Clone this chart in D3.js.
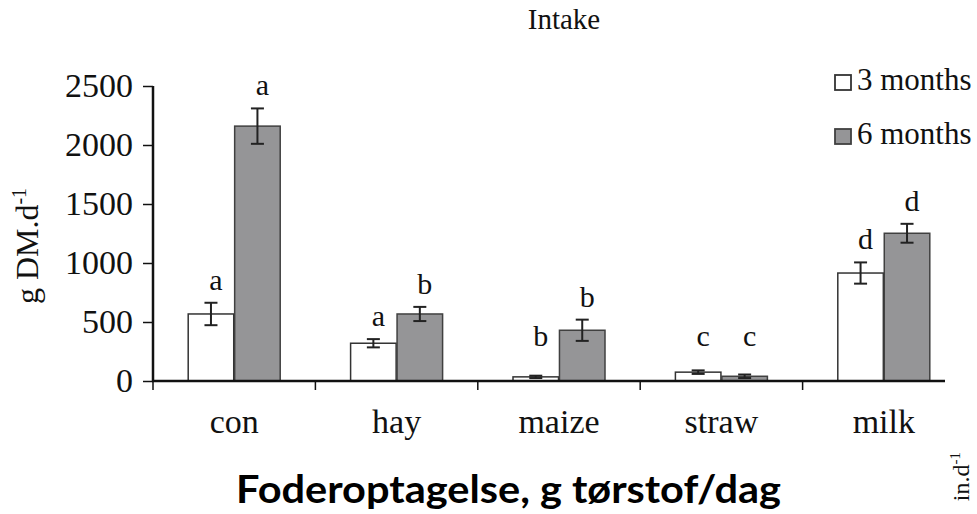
<!DOCTYPE html>
<html>
<head>
<meta charset="utf-8">
<script src="https://cdn.jsdelivr.net/npm/d3@7"></script>
<style>
  body { margin: 0; background: #fff; }
  svg { display: block; }
  text { font-family: "Liberation Serif", "Times New Roman", serif; fill: #111; }
</style>
</head>
<body>
<svg id="chart" width="977" height="514"></svg>
<script>
// dati
const categories = ["con", "hay", "maize", "straw", "milk"];
const series = ["3 months", "6 months"];
const months3 = [568, 320, 35, 75, 915];
const months6 = [2160, 568, 430, 40, 1252];
const err3 = [95, 35, 10, 15, 90];
const err6 = [150, 60, 90, 15, 80];
const letters3 = ["a", "a", "b", "c", "d"];
const letters6 = ["a", "b", "b", "c", "d"];
const yTicks = [0, 500, 1000, 1500, 2000, 2500];

const svg = d3.select("#chart");

const x = d3.scaleBand().domain(categories).range([153, 965]);
const y = d3.scaleLinear().domain([0, 2500]).range([381, 86]);
const bw = x.bandwidth();
const x1 = d3.scaleBand().domain(series).range([bw / 2 - 46, bw / 2 + 46]).paddingInner(0.02);

const fills = ["#ffffff", "#959597"];
const strokes = ["#333333", "#404040"];

// righe per ogni barra
const rows = [];
categories.forEach((c, i) => {
  rows.push({ cat: c, s: series[0], v: months3[i], e: err3[i], l: letters3[i], k: 0 });
  rows.push({ cat: c, s: series[1], v: months6[i], e: err6[i], l: letters6[i], k: 1 });
});

// barre
svg.selectAll(".bar")
  .data(rows)
  .enter()
  .append("rect")
  .attr("class", "bar")
  .attr("x", d => x(d.cat) + x1(d.s))
  .attr("y", d => y(d.v))
  .attr("width", x1.bandwidth())
  .attr("height", d => y(0) - y(d.v))
  .attr("fill", d => fills[d.k])
  .attr("stroke", d => strokes[d.k])
  .attr("stroke-width", 1.5);

// barre d'errore
const cx = d => x(d.cat) + x1(d.s) + x1.bandwidth() / 2;
const eb = svg.append("g").attr("stroke", "#222").attr("stroke-width", 2);
rows.forEach(d => {
  const top = y(d.v + d.e), bot = y(Math.max(0, d.v - d.e));
  eb.append("line").attr("x1", cx(d)).attr("x2", cx(d)).attr("y1", top).attr("y2", bot);
  eb.append("line").attr("x1", cx(d) - 6.5).attr("x2", cx(d) + 6.5).attr("y1", top).attr("y2", top);
  eb.append("line").attr("x1", cx(d) - 6.5).attr("x2", cx(d) + 6.5).attr("y1", bot).attr("y2", bot);
});

// lettere di significatività
svg.selectAll(".sig")
  .data(rows)
  .enter()
  .append("text")
  .attr("class", "sig")
  .attr("x", d => cx(d) + 5)
  .attr("y", d => Math.min(y(d.v + d.e) - 13, y(300)))
  .attr("text-anchor", "middle")
  .attr("font-size", 30)
  .text(d => d.l);

// asse y
const yAxis = svg.append("g")
  .attr("transform", "translate(153,0)")
  .call(d3.axisLeft(y).tickValues(yTicks).tickSize(10).tickPadding(10).tickFormat(d3.format("d")));
yAxis.select(".domain").attr("stroke", "#111").attr("stroke-width", 2.5).attr("d", `M0,${y(2500)}V${y(0) + 1}`);
yAxis.selectAll(".tick line").attr("stroke", "#111").attr("stroke-width", 1.5);
yAxis.selectAll(".tick text").attr("font-size", 34).attr("font-family", "Liberation Serif").attr("fill", "#111");

// asse x
const xAxis = svg.append("g")
  .attr("transform", `translate(0,${y(0)})`)
  .call(d3.axisBottom(x).tickSize(0).tickPadding(40));
xAxis.select(".domain").attr("stroke", "#111").attr("stroke-width", 2.5).attr("d", "M152,0H945");
xAxis.selectAll(".tick text").attr("font-size", 34).attr("font-family", "Liberation Serif").attr("fill", "#111").attr("dy", 0).attr("y", 52);
// tacche tra le categorie
svg.append("g").selectAll("line")
  .data(categories)
  .enter()
  .append("line")
  .attr("x1", d => x(d)).attr("x2", d => x(d))
  .attr("y1", y(0)).attr("y2", y(0) + 9)
  .attr("stroke", "#111").attr("stroke-width", 1.5);

// titolo
svg.append("text")
  .attr("x", 564).attr("y", 29)
  .attr("text-anchor", "middle")
  .attr("font-size", 29)
  .text("Intake");

// titolo asse y
const yt = svg.append("text")
  .attr("transform", "translate(38,246) rotate(-90)")
  .attr("text-anchor", "middle")
  .attr("font-size", 32);
yt.append("tspan").text("g DM.d");
yt.append("tspan").attr("font-size", 20).attr("dy", -12).text("-1");

// legenda
const leg = svg.append("g");
series.forEach((s, i) => {
  leg.append("rect")
    .attr("x", 835).attr("y", 75 + i * 54)
    .attr("width", 16).attr("height", 15)
    .attr("fill", fills[i]).attr("stroke", strokes[i]).attr("stroke-width", 1.8);
  leg.append("text")
    .attr("x", 857).attr("y", 90 + i * 54)
    .attr("font-size", 31)
    .text(s);
});

// sottotitolo in danese
svg.append("text")
  .attr("x", 236).attr("y", 503)
  .style("font-family", "Lato, 'DejaVu Sans', sans-serif")
  .style("font-weight", "bold")
  .attr("font-size", 39)
  .attr("textLength", 545)
  .attr("lengthAdjust", "spacingAndGlyphs")
  .style("fill", "#000")
  .text("Foderoptagelse, g tørstof/dag");

// frammento del grafico accanto (tagliato nell'originale)
const frag = svg.append("text")
  .attr("transform", "translate(969,452) rotate(-90)")
  .attr("text-anchor", "end")
  .attr("font-size", 24);
frag.append("tspan").text("in.d");
frag.append("tspan").attr("font-size", 15).attr("dy", -9).text("-1");
</script>
</body>
</html>
